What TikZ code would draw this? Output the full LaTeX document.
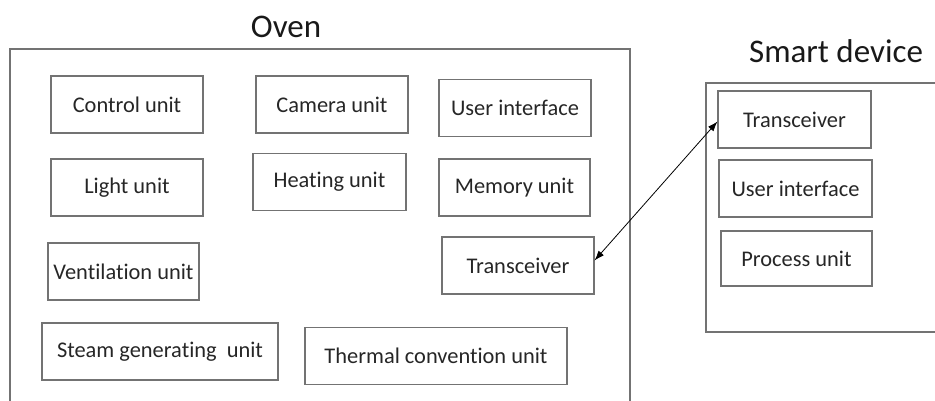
\documentclass[tikz,border=0pt]{standalone}
\usepackage{fontspec}
\setmainfont[Ligatures={NoCommon}]{Carlito}
\usetikzlibrary{arrows.meta}

\begin{document}
\begin{tikzpicture}[x=1pt,y=-1pt,
  unit/.style={draw=black!55,line width=1.1pt,text=black!85,inner sep=2pt,
    minimum height=57pt,minimum width=#1,font=\fontsize{22.4}{26}\selectfont},
  unit/.default=152pt,
  title/.style={anchor=base,text=black!90,font=\fontsize{33}{38}\selectfont},
  frame/.style={draw=black!55,line width=1.1pt}]
\useasboundingbox (0,0) rectangle (935,401);

% oven
\draw[frame] (10,401) -- (10,49) -- (630,49) -- (630,401);
\node[title,name=oventitle] at (286,38) {Oven};
\node[unit,name=control] at (127,104.5) {Control unit};
\node[unit,name=camera] at (332,104.5) {Camera unit};
\node[unit,name=ovenui] at (515,108) {User interface};
\node[unit,name=light] at (127,187.5) {Light unit};
\node[unit=153pt,name=heating] at (329.5,182) {Heating unit};
\node[unit=151pt,name=memory] at (514.5,187.5) {Memory unit};
\node[unit=151pt,name=ventilation] at (123.5,271.5) {Ventilation unit};
\node[unit,name=oventrx] at (518,265.5) {Transceiver};
\node[unit=236pt,name=steam] at (160,351.5) {Steam generating\ \ unit};
\node[unit=262pt,name=thermal] at (436,356) {Thermal convention unit};

% smart device
\draw[frame] (935,83) -- (706,83) -- (706,332) -- (935,332);
\node[title,name=smarttitle] at (836,63) {Smart device};
\node[unit=153pt,name=smarttrx] at (794.5,119.5) {Transceiver};
\node[unit=153pt,name=smartui] at (795.5,188.5) {User interface};
\node[unit=151pt,minimum height=55pt,name=process] at (796.5,258.5) {Process unit};

\draw[{Latex[length=10pt,width=7pt]}-{Latex[length=10pt,width=7pt]},line width=0.8pt]
  ([yshift=5pt]oventrx.east) -- ([yshift=-2pt]smarttrx.west);
\end{tikzpicture}
\end{document}
